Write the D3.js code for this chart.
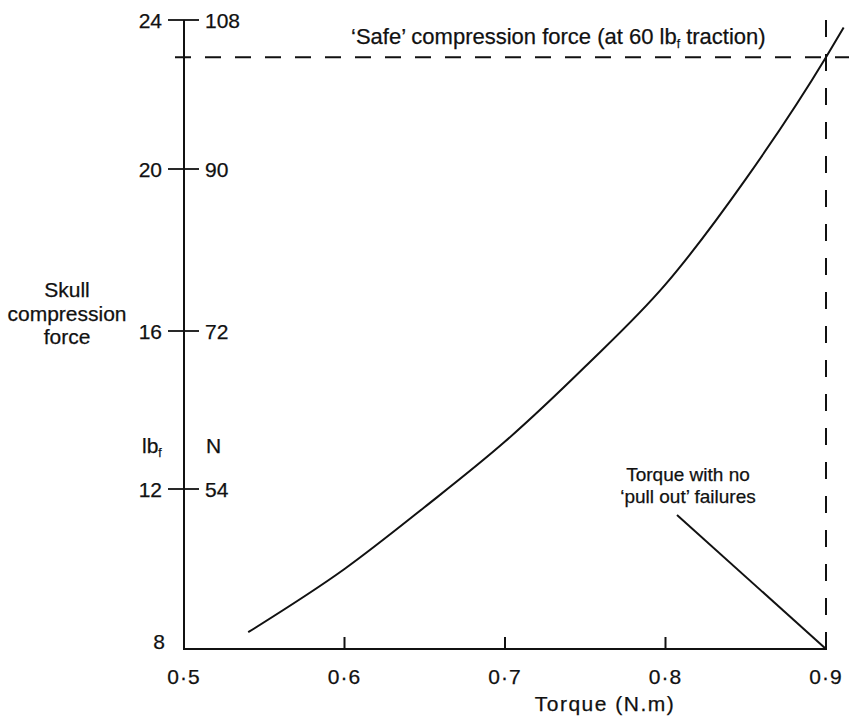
<!DOCTYPE html>
<html>
<head>
<meta charset="utf-8">
<script src="https://cdn.jsdelivr.net/npm/d3@7"></script>
<style>
  html, body { margin: 0; padding: 0; background: #fff; }
  svg text { font-family: "Liberation Sans", Arial, Helvetica, sans-serif; fill: #111; stroke: #111; stroke-width: 0.25px; }
</style>
</head>
<body>
<svg id="chart" width="849" height="719"></svg>
<script>
// ---- data ----
const torque = [0.54, 0.60, 0.65, 0.70, 0.75, 0.80, 0.85, 0.90, 0.911];
const forceLbf = [8.42, 10.0, 11.55, 13.2, 15.1, 17.15, 19.75, 23.0, 23.8];
const lbfTicks = [24, 20, 16, 12, 8];
const newtonTicks = [108, 90, 72, 54];
const torqueTicks = [0.5, 0.6, 0.7, 0.8, 0.9];
const safeForce = 23;
const safeTorque = 0.9;

// ---- scales ----
const svg = d3.select("#chart");
const x = d3.scaleLinear().domain([0.5, 0.9]).range([184, 826]);
// the hand-drawn axis has slightly uneven spacing; piecewise linear scale
const y = d3.scaleLinear().domain([8, 12, 16, 20, 24]).range([649, 489, 331, 169, 20]);
const fmt = d => d3.format(".1f")(d).replace(".", "·");
const FS = 21;
const ink = "#111";

// axes lines
svg.append("line").attr("x1", x(0.5)).attr("x2", x(0.5)).attr("y1", y(24)).attr("y2", y(8))
  .attr("stroke", ink).attr("stroke-width", 2);
svg.append("line").attr("x1", x(0.5) - 1).attr("x2", x(0.9) + 1).attr("y1", y(8)).attr("y2", y(8))
  .attr("stroke", ink).attr("stroke-width", 2.2);

// y ticks (cross ticks) and labels
const yt = svg.append("g");
yt.selectAll("line").data(lbfTicks.filter(d => d !== 8)).join("line")
  .attr("x1", x(0.5) - 16).attr("x2", x(0.5) + 15)
  .attr("y1", d => y(d)).attr("y2", d => y(d))
  .attr("stroke", ink).attr("stroke-width", 1.8);
yt.selectAll("text.lbf").data(lbfTicks).join("text").attr("class", "lbf")
  .attr("x", d => d === 8 ? x(0.5) - 19 : x(0.5) - 22).attr("y", d => d === 8 ? y(d) - 8 : y(d))
  .attr("dy", "0.36em").attr("text-anchor", "end").attr("font-size", FS)
  .text(d => d);
yt.selectAll("text.n").data(newtonTicks).join("text").attr("class", "n")
  .attr("x", x(0.5) + 21).attr("y", (d, i) => y(lbfTicks[i]))
  .attr("dy", "0.36em").attr("text-anchor", "start").attr("font-size", FS)
  .text(d => d);

// unit labels
const unitY = y(13.1);
const lbT = svg.append("text").attr("x", x(0.5) - 42).attr("y", unitY).attr("dy", "0.36em")
  .attr("font-size", FS);
lbT.append("tspan").text("lb");
lbT.append("tspan").attr("font-size", 12).attr("dy", 4).text("f");
svg.append("text").attr("x", x(0.5) + 22).attr("y", unitY).attr("dy", "0.36em")
  .attr("font-size", FS).text("N");

// x ticks
svg.append("g").selectAll("line").data(torqueTicks.filter(d => d > 0.5 && d < 0.9)).join("line")
  .attr("x1", d => x(d)).attr("x2", d => x(d))
  .attr("y1", y(8)).attr("y2", y(8) - 12)
  .attr("stroke", ink).attr("stroke-width", 2);
svg.append("g").selectAll("text").data(torqueTicks).join("text")
  .attr("x", d => x(d)).attr("y", 684).attr("text-anchor", "middle").attr("font-size", FS)
  .attr("letter-spacing", 1)
  .text(fmt);

// axis titles
svg.append("text").attr("x", 605).attr("y", 711).attr("text-anchor", "middle")
  .attr("font-size", FS).attr("letter-spacing", 1.5).text("Torque (N.m)");
const yl = svg.append("text").attr("text-anchor", "middle").attr("font-size", FS);
["Skull", "compression", "force"].forEach((s, i) => {
  yl.append("tspan").attr("x", 67).attr("y", 297 + i * 23.5).text(s);
});

// safe compression dashed lines
svg.append("line").attr("x1", x(0.5) - 9).attr("x2", 849).attr("y1", y(safeForce)).attr("y2", y(safeForce))
  .attr("stroke", ink).attr("stroke-width", 2).attr("stroke-dasharray", "16,14");
svg.append("line").attr("x1", x(safeTorque)).attr("x2", x(safeTorque)).attr("y1", y(24)).attr("y2", y(8))
  .attr("stroke", ink).attr("stroke-width", 2).attr("stroke-dasharray", "17,17");

// safe label
const sl = svg.append("text").attr("x", 351).attr("y", 44).attr("font-size", 22);
sl.append("tspan").text("‘Safe’ compression force (at 60 lb");
sl.append("tspan").attr("font-size", 12).attr("dy", 4).text("f");
sl.append("tspan").attr("dy", -4).text(" traction)");

// curve
const pts = torque.map((t, i) => [t, forceLbf[i]]);
const line = d3.line().x(d => x(d[0])).y(d => y(d[1])).curve(d3.curveMonotoneX);
svg.append("path").datum(pts).attr("d", line)
  .attr("fill", "none").attr("stroke", ink).attr("stroke-width", 2);

// annotation
const an = svg.append("text").attr("text-anchor", "middle").attr("font-size", 19);
an.append("tspan").attr("x", 688).attr("y", 481).text("Torque with no");
an.append("tspan").attr("x", 688).attr("y", 503).text("‘pull out’ failures");
svg.append("line").attr("x1", 677).attr("y1", 515).attr("x2", x(safeTorque)).attr("y2", y(8))
  .attr("stroke", ink).attr("stroke-width", 2);
</script>
</body>
</html>
